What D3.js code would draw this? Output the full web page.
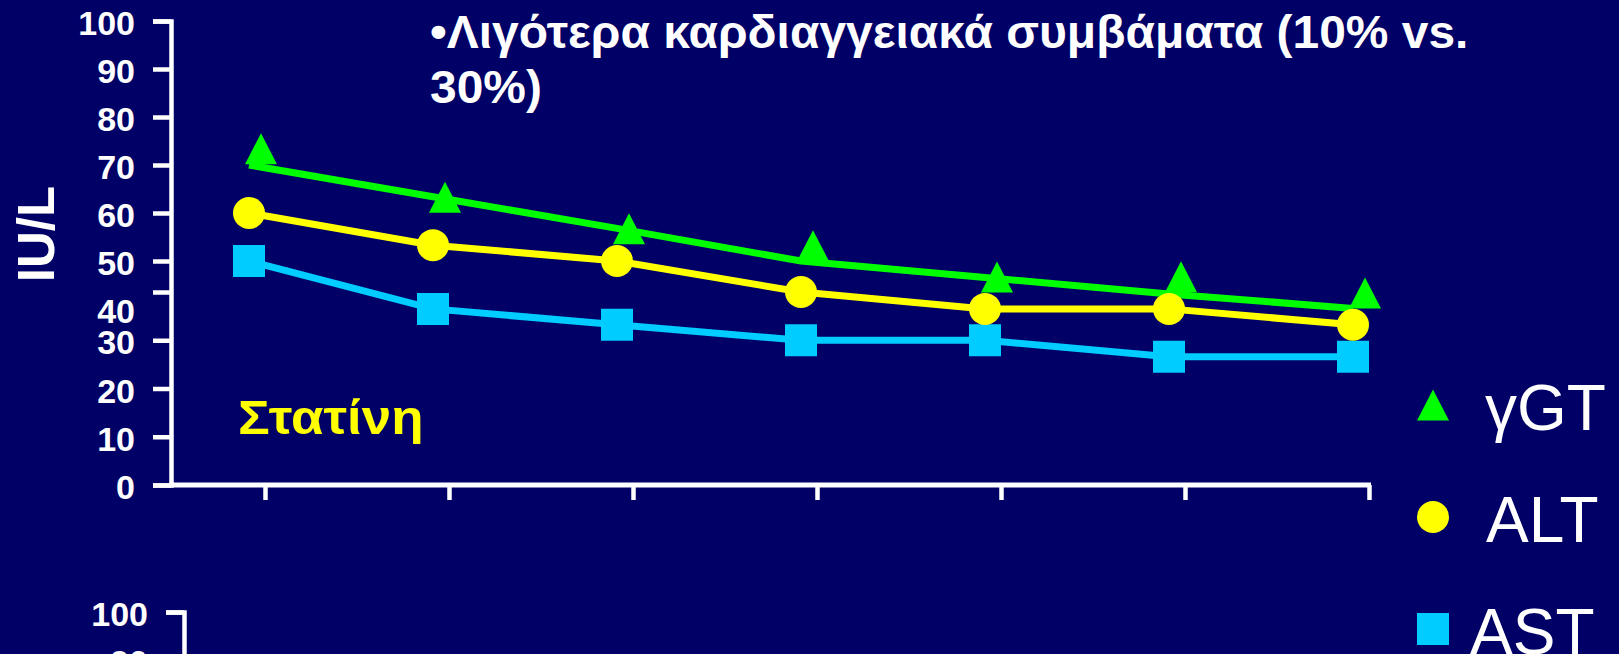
<!DOCTYPE html>
<html><head><meta charset="utf-8">
<script src="https://cdn.jsdelivr.net/npm/d3@7"></script>
<style>
html,body{margin:0;padding:0;background:#000066;overflow:hidden}
svg{display:block}
</style></head><body>
<svg id="c" width="1619" height="654"></svg>
<script>
// ---- data ----
const timepoints = ["t1","t2","t3","t4","t5","t6","t7"];
const altValues = [60, 53.3, 50, 40, 36.5, 36.5, 33.2];
const astValues = [50, 36.5, 33.2, 30, 30, 26.6, 26.6];
const ggtLineValues = [70, 63.4, 56.8, 50, 44.7, 39.6, 36.6];
const ggtMarkerValues = [73.4, 63.3, 56.7, 53.2, 44.8, 44.9, 39.8];
const yTickValues = [0,10,20,30,40,50,60,70,80,90,100];
const yTickValues2 = [90,100];
const yAxisLabel = "IU/L";
const treatmentLabel = "Στατίνη";
const noteLines = ["•Λιγότερα καρδιαγγειακά συμβάματα (10% vs.", "30%)"];
const legendLabels = ["γGT","ALT","AST"];

// ---- style ----
const BG = "#000066", WHITE = "#ffffff";
const GREEN = "#00ff00", YELLOW = "#ffff00", CYAN = "#00ccff";
const FONT = "'Liberation Sans', Arial, sans-serif";

const svg = d3.select("#c");
svg.append("rect").attr("width",1619).attr("height",654).attr("fill",BG);

// scales (axis in the reference is drawn unevenly between 40 and 50)
const y = d3.scaleLinear().domain([0,40,50,100]).range([485,292,261,21]);
const x = d3.scalePoint().domain(timepoints).range([249,1353]);

// ---- y axis (top chart) ----
function styleYAxis(g){
  g.select(".domain").attr("stroke",WHITE).attr("stroke-width",4.5).attr("fill","none");
  g.selectAll(".tick line").attr("stroke",WHITE).attr("stroke-width",4.5);
  g.selectAll(".tick text").attr("fill",WHITE).attr("font-family",FONT)
    .attr("font-size",34).attr("font-weight","bold").attr("dy","0.40em");
}
const yAxisG = svg.append("g").attr("transform","translate(171,0)")
  .call(d3.axisLeft(y).tickValues(yTickValues).tickSize(18).tickSizeOuter(18).tickPadding(18))
  .call(styleYAxis);
yAxisG.selectAll(".tick").filter(d => d === 40).select("text").attr("dy","0.90em");

// ---- x axis ----
svg.append("line").attr("x1",169).attr("x2",x(timepoints[6])+18)
  .attr("y1",y(0)).attr("y2",y(0)).attr("stroke",WHITE).attr("stroke-width",5);
const xAxisG = svg.append("g").attr("transform",`translate(16,${y(0)})`)
  .call(d3.axisBottom(x).tickSize(15).tickFormat(""));
xAxisG.select(".domain").remove();
xAxisG.selectAll(".tick line").attr("stroke",WHITE).attr("stroke-width",4.5);

// ---- second (clipped) chart axis ----
svg.append("g").attr("transform","translate(184,591)")
  .call(d3.axisLeft(y).tickValues(yTickValues2).tickSize(18).tickSizeOuter(18).tickPadding(18))
  .call(styleYAxis);

// ---- lines ----
const line = d3.line().x((d,i) => x(timepoints[i])).y(d => y(d));
[[ggtLineValues,GREEN],[altValues,YELLOW],[astValues,CYAN]].forEach(([vals,col]) => {
  svg.append("path").datum(vals).attr("d",line).attr("fill","none")
    .attr("stroke",col).attr("stroke-width",7).attr("stroke-linejoin","miter");
});

// ---- markers ----
const triPath = "M0,-15.5L16,15.5L-16,15.5Z";
svg.append("g").selectAll("path").data(astValues).join("path")
  .attr("d", d3.symbol(d3.symbolSquare, 1024))
  .attr("transform",(d,i)=>`translate(${x(timepoints[i])},${y(d)})`).attr("fill",CYAN);
svg.append("g").selectAll("circle").data(altValues).join("circle")
  .attr("cx",(d,i)=>x(timepoints[i])).attr("cy",d=>y(d)).attr("r",16).attr("fill",YELLOW);
svg.append("g").selectAll("path").data(ggtMarkerValues).join("path")
  .attr("d",triPath)
  .attr("transform",(d,i)=>`translate(${x(timepoints[i])+12},${y(d)})`).attr("fill",GREEN);

// ---- texts ----
svg.append("text").attr("transform","translate(54,234) rotate(-90)")
  .attr("text-anchor","middle").attr("fill",WHITE).attr("font-family",FONT)
  .attr("font-weight","bold").attr("font-size",51).text(yAxisLabel);

svg.append("text").attr("transform","translate(238,434) scale(1.08,1)").attr("fill",YELLOW)
  .attr("font-family",FONT).attr("font-weight","bold").attr("font-size",49).text(treatmentLabel);

svg.append("g").attr("transform","translate(430,0) scale(1.02,1)")
  .selectAll("text").data(noteLines).join("text")
  .attr("x",0).attr("y",(d,i)=>48+i*55).attr("fill",WHITE)
  .attr("font-family",FONT).attr("font-weight","bold").attr("font-size",47).text(d=>d);

// ---- legend ----
const legendColors = [GREEN, YELLOW, CYAN];
const legendTextDx = [0, 1, -15];
const lg = svg.append("g").selectAll("g").data(legendLabels).join("g")
  .attr("transform",(d,i)=>`translate(1433,${405 + i*112})`);
lg.each(function(d,i){
  const g = d3.select(this);
  if(i===0) g.append("path").attr("d",triPath).attr("fill",legendColors[i]);
  else if(i===1) g.append("circle").attr("r",16).attr("fill",legendColors[i]);
  else g.append("path").attr("d",d3.symbol(d3.symbolSquare,1024)).attr("fill",legendColors[i]);
  g.append("text").attr("x",52+legendTextDx[i]).attr("y",25).attr("fill",WHITE)
    .attr("font-family",FONT).attr("font-size",64).text(d);
});
</script>
</body></html>
